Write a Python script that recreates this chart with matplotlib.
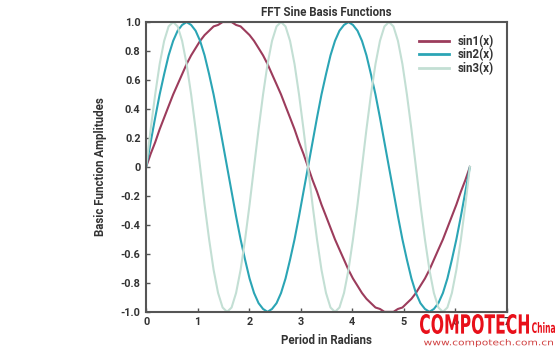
import matplotlib
matplotlib.use("Agg")
import matplotlib.pyplot as plt
from matplotlib.textpath import TextPath
from matplotlib.patches import PathPatch
from matplotlib.font_manager import FontProperties
from matplotlib.transforms import Affine2D

plt.rcParams['font.family'] = ['Roboto', 'DejaVu Sans']
plt.rcParams['font.weight'] = 'bold'

# x in radians, steps of pi/36
x_rad = [0.000, 0.087, 0.175, 0.262, 0.349, 0.436, 0.524, 0.611, 0.698, 0.785,
         0.873, 0.960, 1.047, 1.134, 1.222, 1.309, 1.396, 1.484, 1.571, 1.658,
         1.745, 1.833, 1.920, 2.007, 2.094, 2.182, 2.269, 2.356, 2.443, 2.531,
         2.618, 2.705, 2.793, 2.880, 2.967, 3.054, 3.142, 3.229, 3.316, 3.403,
         3.491, 3.578, 3.665, 3.752, 3.840, 3.927, 4.014, 4.102, 4.189, 4.276,
         4.363, 4.451, 4.538, 4.625, 4.712, 4.800, 4.887, 4.974, 5.061, 5.149,
         5.236, 5.323, 5.411, 5.498, 5.585, 5.672, 5.760, 5.847, 5.934, 6.021,
         6.109, 6.196, 6.283]

sin1 = [0, .09, .17, .26, .34, .42, .5, .57, .64, .71, .77, .82, .87, .91, .94, .97, .98, 1.0, 1,
        1.0, .98, .97, .94, .91, .87, .82, .77, .71, .64, .57, .5, .42, .34, .26, .17, .09, 0,
        -.09, -.17, -.26, -.34, -.42, -.5, -.57, -.64, -.71, -.77, -.82, -.87, -.91, -.94, -.97, -.98, -1.0, -1,
        -1.0, -.98, -.97, -.94, -.91, -.87, -.82, -.77, -.71, -.64, -.57, -.5, -.42, -.34, -.26, -.17, -.09, 0]

sin2 = [0, .17, .34, .5, .64, .77, .87, .94, .98, 1, .98, .94, .87, .77, .64, .5, .34, .17, 0,
        -.17, -.34, -.5, -.64, -.77, -.87, -.94, -.98, -1, -.98, -.94, -.87, -.77, -.64, -.5, -.34, -.17, 0,
        .17, .34, .5, .64, .77, .87, .94, .98, 1, .98, .94, .87, .77, .64, .5, .34, .17, 0,
        -.17, -.34, -.5, -.64, -.77, -.87, -.94, -.98, -1, -.98, -.94, -.87, -.77, -.64, -.5, -.34, -.17, 0]

sin3 = [0, .26, .5, .71, .87, .97, 1, .97, .87, .71, .5, .26, 0,
        -.26, -.5, -.71, -.87, -.97, -1, -.97, -.87, -.71, -.5, -.26, 0,
        .26, .5, .71, .87, .97, 1, .97, .87, .71, .5, .26, 0,
        -.26, -.5, -.71, -.87, -.97, -1, -.97, -.87, -.71, -.5, -.26, 0,
        .26, .5, .71, .87, .97, 1, .97, .87, .71, .5, .26, 0,
        -.26, -.5, -.71, -.87, -.97, -1, -.97, -.87, -.71, -.5, -.26, 0]

labels = ["sin1(x)", "sin2(x)", "sin3(x)"]
colors = ["#9c3c5c", "#2ba5b5", "#c3dfd4"]

fig = plt.figure(figsize=(5.6, 3.5), dpi=100)
ax = fig.add_axes([0.261, 0.109, 0.644, 0.828])

for ys, lab, col in zip([sin1, sin2, sin3], labels, colors):
    ax.plot(x_rad, ys, color=col, lw=1.5, label=lab)

ax.set_xlim(0, 7)
ax.set_ylim(-1, 1)
ax.set_xticks(range(0, 8))
ax.set_yticks([-1.0, -0.8, -0.6, -0.4, -0.2, 0, 0.2, 0.4, 0.6, 0.8, 1.0])
ax.set_yticklabels(["-1.0", "-0.8", "-0.6", "-0.4", "-0.2", "0",
                    "0.2", "0.4", "0.6", "0.8", "1.0"])
ax.tick_params(direction='in', length=3, width=1, colors='#555555',
               labelcolor='#333333', labelsize=7.8, pad=4)
for s in ax.spines.values():
    s.set_color('#555555')
    s.set_linewidth(1.5)

ax.set_title("FFT Sine Basis Functions", fontsize=8.3, fontweight='bold',
             color='#333333', pad=4)
ax.set_xlabel("Period in Radians", fontsize=8.3, fontweight='bold',
              color='#333333', labelpad=5)
ax.set_ylabel("Basic Function Amplitudes", fontsize=8.3, fontweight='bold',
              color='#333333', labelpad=10)

leg = ax.legend(loc='upper right', frameon=False, fontsize=8.3,
                handlelength=2.6, borderaxespad=0.7, labelspacing=0.02)
for t in leg.get_texts():
    t.set_color('#333333')
for l in leg.get_lines():
    l.set_linewidth(2)


def boxed_text(s, x0, x1, y0, y1, color, weight='bold'):
    # draw text squeezed into a pixel box (origin bottom-left)
    tp = TextPath((0, 0), s, size=20,
                  prop=FontProperties(family='DejaVu Sans', weight=weight))
    ext = tp.get_extents()
    tr = (Affine2D().translate(-ext.x0, -ext.y0)
          .scale((x1 - x0) / ext.width, (y1 - y0) / ext.height)
          .translate(x0, y0))
    fig.patches.append(PathPatch(tr.transform_path(tp), color=color, lw=0,
                                 transform=None, figure=fig))


# watermark
boxed_text("COMPOTECH", 420, 529, 16, 36, '#e8101a')
boxed_text("China", 532, 555, 17, 28, '#e8101a')
boxed_text("www.compotech.com.cn", 424, 553, 3, 11, '#d04040', weight='normal')

fig.savefig("out.png", dpi=100)
